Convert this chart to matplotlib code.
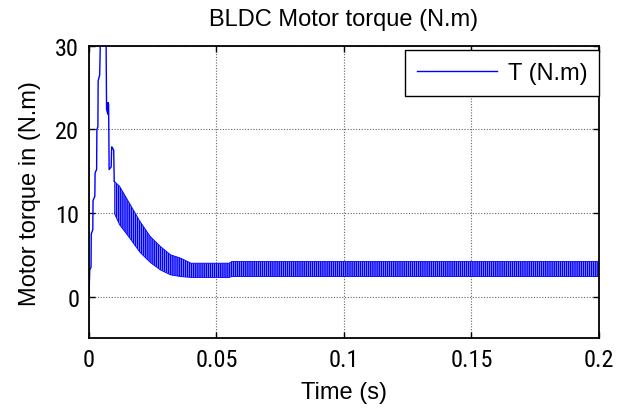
import numpy as np
import matplotlib
matplotlib.use("Agg")
import matplotlib.pyplot as plt
from matplotlib import font_manager as fm

# ---- data ----
# start-up transient (s, N.m)
t_start = [0, 0.0003, 0.0004, 0.0008, 0.0009, 0.0015, 0.0016, 0.0023, 0.0024,
           0.0030, 0.0031, 0.0035, 0.0036, 0.0042, 0.0045, 0.0067, 0.0069,
           0.0074, 0.0075, 0.0077, 0.0079, 0.0087, 0.0089, 0.0090, 0.0097, 0.0099]
T_start = [0, 3.3, 3.3, 3.5, 7.5, 8.0, 11.5, 12.0, 14.8, 15.2, 20.0, 20.3, 25.8,
           26.5, 31.0, 31.0, 22.4, 21.8, 23.2, 23.0, 15.2, 15.5, 17.9, 17.9, 17.5, 13.8]

# envelope of the torque ripple after start-up
t_env = [0.0099, 0.0120, 0.0160, 0.0200, 0.0240, 0.0280, 0.0320, 0.0360,
         0.0400, 0.0550, 0.0560, 0.2000]
T_upper = [13.8, 13.2, 11.1, 9.0, 7.2, 6.0, 5.0, 4.6, 4.0, 4.0, 4.2, 4.2]
T_lower = [10.0, 8.6, 7.0, 5.3, 4.1, 3.2, 2.6, 2.4, 2.3, 2.3, 2.4, 2.4]

x_ticks = [0, 0.05, 0.1, 0.15, 0.2]
x_tick_labels = ["0", "0.05", "0.1", "0.15", "0.2"]
y_ticks = [0, 10, 20, 30]
y_tick_labels = ["0", "10", "20", "30"]

# ---- fonts ----
names = {f.name for f in fm.fontManager.ttflist}
main_font = "Liberation Sans" if "Liberation Sans" in names else "DejaVu Sans"
narrow_font = next((n for n in ["Liberation Sans Narrow", "Arial Narrow",
                                "Roboto Condensed", "Open Sans Condensed"] if n in names),
                   main_font)
plt.rcParams["font.family"] = [main_font, "DejaVu Sans"]
plt.rcParams["hatch.linewidth"] = 0.35

BLUE = (0, 0, 1)
FS = 17

fig = plt.figure(figsize=(6.17, 4.14), dpi=100)
ax = fig.add_axes([0.1442, 0.180, 0.8266, 0.7072])

ax.set_xlim(0, 0.2)
ax.set_ylim(-5, 30)

ax.grid(True, color="0.4", linestyle=(0, (1, 1.5)), linewidth=0.8)
ax.set_axisbelow(True)

line, = ax.plot(t_start, T_start, color=BLUE, linewidth=1.0, label="T (N.m)")
ax.fill_between(t_env, T_lower, T_upper, facecolor=BLUE, edgecolor="white",
                hatch="||||||||", linewidth=0)
ax.plot(t_env, T_upper, color=BLUE, linewidth=0.6)
ax.plot(t_env, T_lower, color=BLUE, linewidth=0.6)

ax.set_xticks(x_ticks)
ax.set_xticklabels(x_tick_labels, family=[narrow_font, main_font], fontsize=FS + 0.5)
ax.set_yticks(y_ticks)
ax.set_yticklabels(y_tick_labels, family=[narrow_font, main_font], fontsize=FS + 0.5)
ax.tick_params(direction="in", top=True, right=True, length=4, width=1.0, pad=7)

for s in ax.spines.values():
    s.set_linewidth(1.3)
    s.set_color("black")

ax.set_title("BLDC Motor torque (N.m)", fontsize=FS, pad=15)
ax.set_xlabel("Time (s)", fontsize=FS, labelpad=7)
ax.set_ylabel("Motor torque in (N.m)", fontsize=FS, labelpad=10)

leg = ax.legend(handles=[line], loc="upper right", bbox_to_anchor=(1.0, 0.985),
                borderaxespad=0, fontsize=FS, handlelength=3.4, handletextpad=0.45,
                borderpad=0.5, fancybox=False, framealpha=1, edgecolor="black")
leg.get_frame().set_linewidth(1.0)

fig.savefig("out.png", dpi=100)
